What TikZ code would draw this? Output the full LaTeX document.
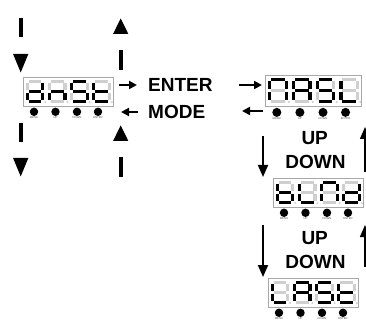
\documentclass[tikz,border=0pt]{standalone}
\usepackage{fontspec}
\setmainfont{Liberation Sans}
\usetikzlibrary{arrows.meta}
\definecolor{segoffc}{HTML}{CFCFCF}
\definecolor{boxc}{HTML}{A8A8A8}
\def\sega{(0,0)--(15.5,0)}
\def\segb{(15.5,0)--(15.5,10.25)}
\def\segc{(15.5,10.25)--(15.5,20.5)}
\def\segd{(0,20.5)--(15.5,20.5)}
\def\sege{(0,10.25)--(0,20.5)}
\def\segf{(0,0)--(0,10.25)}
\def\segg{(0,10.25)--(15.5,10.25)}
\def\segdrawoff#1{\draw[segoff] #1;}
\def\segdrawon#1{\draw[segon] #1;}
\newcommand\sdigit[2]{%
  \begin{scope}[shift={(#1,4.3)}]
    \foreach \s in {a,b,c,d,e,f,g}{\expandafter\segdrawoff\csname seg\s\endcsname}
    \foreach \s in {#2}{\expandafter\segdrawon\csname seg\s\endcsname}
    \fill[segoffc] (18,20.8) circle (1.1);
  \end{scope}}
\newcommand\lcd[8]{%
  \begin{scope}[shift={(#2,#3)}, scale=#4]
    \node[lcdbox, minimum width=#4*90pt, minimum height=#4*29pt] (#1) at (45,14.5) {};
    \sdigit{4.2}{#5}
    \sdigit{26.4}{#6}
    \sdigit{48.6}{#7}
    \sdigit{70.8}{#8}
    \foreach \bx/\bl in {11/MENU,32.5/UP,54/DOWN,75/ENTER}{
      \fill (\bx,34.8) circle (4.2);
      \node[btnlab] at (\bx,40.6) {\bl};
    }
  \end{scope}}
\tikzset{
  segoff/.style={draw=segoffc, line width=3.2pt, shorten <=1.4pt, shorten >=1.4pt},
  segon/.style={draw=black, line width=3.2pt, shorten <=1.4pt, shorten >=1.4pt},
  lcdbox/.style={draw=boxc, line width=0.9pt, fill=white, inner sep=0},
  btnlab/.style={font=\fontsize{2.8}{2.8}\selectfont, inner sep=0, text=black!70},
  lab/.style={font=\fontsize{19}{19}\selectfont\bfseries, inner sep=0},
  dashdown/.style={line width=4pt, dash pattern=on 19pt off 80pt, -{Triangle[length=19pt,width=14pt]}},
  dashup/.style={line width=4pt, dash pattern=on 20pt off 80pt, -{Triangle[length=16pt,width=14pt]}},
  varrow/.style={line width=1.8pt, -{Triangle[length=12pt,width=10pt]}},
  harrow/.style={line width=2.6pt, -{Triangle[length=8pt,width=8pt]}}
}
\begin{document}
\begin{tikzpicture}[x=1pt,y=-1pt]
\useasboundingbox (0,0) rectangle (366,320);
% displays
\lcd{d1}{23}{77}{1}{b,c,d,e,g}{c,e,g}{a,f,g,c,d}{d,e,f,g}
\lcd{d2}{265}{75}{1.074}{a,b,c,e,f}{a,b,c,e,f,g}{a,f,g,c,d}{d,e,f}
\lcd{d3}{273}{178}{1}{c,d,e,f,g}{d,e,f}{a,b,c,e,f}{b,c,d,e,g}
\lcd{d4}{268}{278}{1}{d,e,f}{a,b,c,e,f,g}{a,f,g,c,d}{d,e,f,g}
% labels
\node[lab, anchor=west] (enter) at (148,85) {ENTER};
\node[lab, anchor=west] (mode) at (148,112) {MODE};
\node[lab] (up1) at (314.7,138.5) {UP};
\node[lab] (down1) at (315.5,162) {DOWN};
\node[lab] (up2) at (314.7,238) {UP};
\node[lab] (down2) at (315.5,262) {DOWN};
% left column dashed arrows
\coordinate (l1s) at (20.7,18); \coordinate (l1e) at (20.7,73);
\coordinate (l2s) at (20.7,123); \coordinate (l2e) at (20.7,177);
\draw[dashdown] (l1s) -- (l1e);
\draw[dashdown] (l2s) -- (l2e);
\coordinate (r1s) at (120.7,70); \coordinate (r1e) at (120.7,18);
\coordinate (r2s) at (120.7,177); \coordinate (r2e) at (120.7,125);
\draw[dashup] (r1s) -- (r1e);
\draw[dashup] (r2s) -- (r2e);
% horizontal arrows
\coordinate (h1s) at (119,85); \coordinate (h1e) at (137,85);
\coordinate (h2s) at (138,112); \coordinate (h2e) at (121,112);
\coordinate (h3s) at (239,85); \coordinate (h3e) at (262,85);
\coordinate (h4s) at (263,111); \coordinate (h4e) at (242,111);
\draw[harrow] (h1s) -- (h1e);
\draw[harrow] (h2s) -- (h2e);
\draw[harrow] (h3s) -- (h3e);
\draw[harrow] (h4s) -- (h4e);
% vertical arrows on the right
\coordinate (v1s) at (263,136); \coordinate (v1e) at (263,177);
\coordinate (v2s) at (263,225); \coordinate (v2e) at (263,277);
\coordinate (v3s) at (365,172); \coordinate (v3e) at (365,127);
\coordinate (v4s) at (365,267); \coordinate (v4e) at (365,225);
\draw[varrow] (v1s) -- (v1e);
\draw[varrow] (v2s) -- (v2e);
\draw[varrow, line width=1.4pt] (v3s) -- (v3e);
\draw[varrow, line width=1.4pt] (v4s) -- (v4e);
\end{tikzpicture}
\end{document}
